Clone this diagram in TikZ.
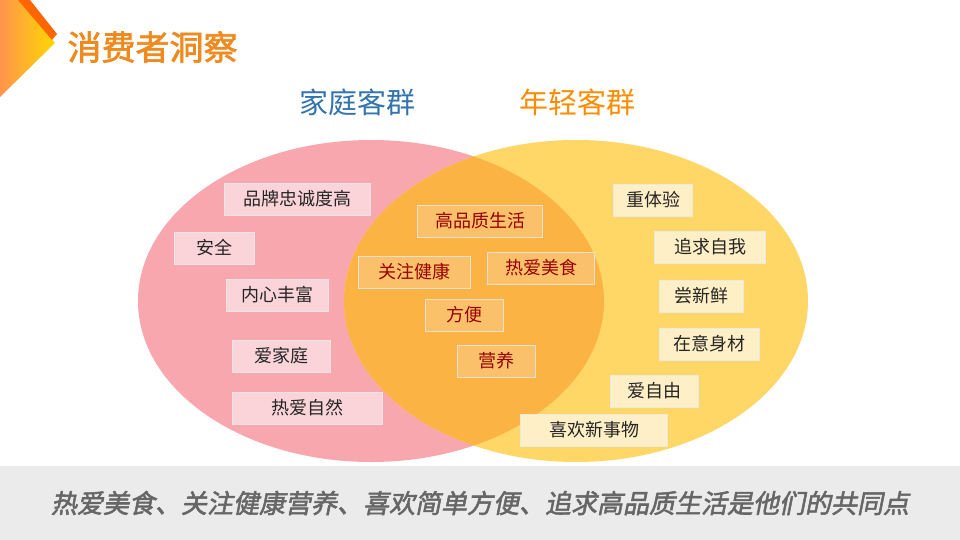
\documentclass[tikz,border=0pt]{standalone}
\usepackage{fontspec}
\setmainfont{Noto Sans CJK SC}
\newfontfamily\cjkb[FakeBold=2]{Noto Sans CJK SC}
\newfontfamily\cjkbi[FakeBold=2,FakeSlant=0.2]{Noto Sans CJK SC}
\begin{document}
\begin{tikzpicture}[x=1pt,y=-1pt,
  bx/.style={draw=#1!70!black!25, fill=#1, font=\fontsize{18}{18}\selectfont, minimum height=32pt, inner xsep=3pt},
  lb/.style={bx=pinkbox, text=black!85},
  mb/.style={bx=midbox, text=red!60!black},
  rb/.style={bx=yelbox, text=black!85}]
\definecolor{pinkbox}{HTML}{FAD4D8}
\definecolor{midbox}{HTML}{FBC16A}
\definecolor{yelbox}{HTML}{FFEFC6}
\definecolor{ttl}{HTML}{EE8A1E}
\definecolor{pinkc}{HTML}{F9A7AF}
\definecolor{yelc}{HTML}{FFD766}
\definecolor{orc}{HTML}{FBB443}
\useasboundingbox (0,0) rectangle (960,540);
\fill[white] (0,0) rectangle (960,540);
% corner decoration
\shade[left color=orange!80!red!70, right color=yellow!70!orange] (0,0) -- (20,0) -- (55,43) -- (0,97) -- cycle;
\fill[orange!80!red] (18,0) -- (30,0) -- (57,34) -- (52,40) -- cycle;
\node[anchor=west, text=ttl, font=\cjkb\fontsize{34}{34}\selectfont] (title) at (64,47) {消费者洞察};
% ellipses
\fill[pinkc] (371,301) ellipse [x radius=233, y radius=161];
\fill[yelc] (576,301) ellipse [x radius=232, y radius=161];
\begin{scope}
\clip (371,301) ellipse [x radius=233, y radius=161];
\fill[orc] (576,301) ellipse [x radius=232, y radius=161];
\end{scope}
\node[text=cyan!60!blue!80!black, font=\fontsize{29}{29}\selectfont] (t1) at (357,102) {家庭客群};
\node[text=orange!90!yellow, font=\fontsize{29}{29}\selectfont] (t2) at (577,102) {年轻客群};
% left
\node[lb, minimum width=146pt] (a1) at (297,199) {品牌忠诚度高};
\node[lb, minimum width=80pt] (a2) at (214,248) {安全};
\node[lb, minimum width=102pt] (a3) at (277,295) {内心丰富};
\node[lb, minimum width=98pt] (a4) at (281,356) {爱家庭};
\node[lb, minimum width=150pt] (a5) at (307,408) {热爱自然};
% middle
\node[mb, minimum width=125pt] (b1) at (480,221) {高品质生活};
\node[mb, minimum width=112pt] (b2) at (414,272) {关注健康};
\node[mb, minimum width=107pt] (b3) at (541,268) {热爱美食};
\node[mb, minimum width=78pt] (b4) at (464,315) {方便};
\node[mb, minimum width=78pt] (b5) at (496,361) {营养};
% right
\node[rb, minimum width=79pt] (c1) at (653,200) {重体验};
\node[rb, minimum width=111pt] (c2) at (710,247) {追求自我};
\node[rb, minimum width=84pt] (c3) at (701,296) {尝新鲜};
\node[rb, minimum width=100pt] (c4) at (709,344) {在意身材};
\node[rb, minimum width=88pt] (c5) at (654,391) {爱自由};
\node[rb, minimum width=147pt] (c6) at (594,430) {喜欢新事物};
% bottom band
\fill[black!8] (0,466) rectangle (960,540);
\node[text=black!60, font=\cjkbi\fontsize{26}{26}\selectfont] (bot) at (480,503) {热爱美食、关注健康营养、喜欢简单方便、追求高品质生活是他们的共同点};
\end{tikzpicture}
\end{document}
